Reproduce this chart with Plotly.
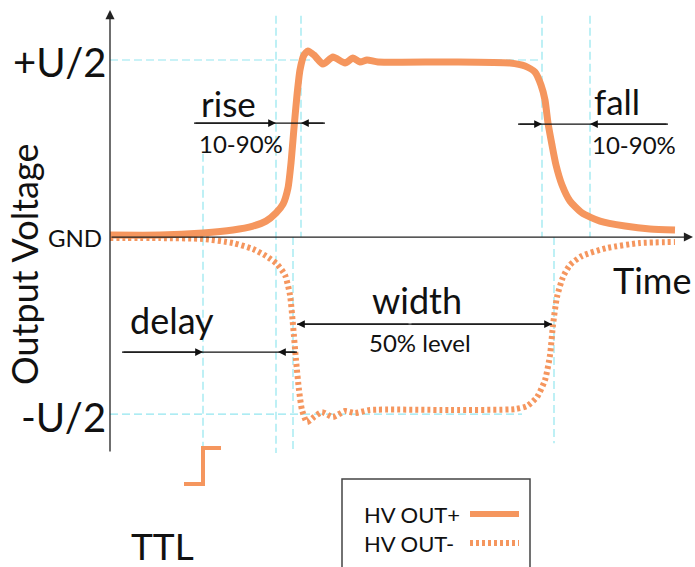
import plotly.graph_objects as go

# ---- data (time in arbitrary units, voltage in units of U/2) ----
t_pos = [0, 5.0, 9.3, 12.3, 14.3, 15.6, 16.6, 17.3, 17.8, 18.1, 18.4, 18.7, 19.0, 19.4, 19.8,
         20.4, 21.3, 22.3, 23.5, 24.3, 25.0, 25.7, 26.8, 34.0, 40.0, 41.5, 42.5, 43.1, 43.5,
         43.8, 44.2, 44.6, 45.2, 46.0, 47.2, 49.0, 51.5, 54.0, 56.5]
v_pos = [0.011, 0.011, 0.023, 0.040, 0.062, 0.090, 0.136, 0.186, 0.277, 0.418, 0.616, 0.802,
         0.944, 1.028, 1.051, 1.028, 0.977, 1.017, 0.983, 1.011, 0.989, 1.0, 0.989, 0.989,
         0.983, 0.966, 0.932, 0.859, 0.774, 0.644, 0.520, 0.407, 0.294, 0.203, 0.136, 0.090,
         0.062, 0.045, 0.040]

t_neg = [0, 5.0, 9.3, 12.3, 14.3, 15.6, 16.7, 17.5, 18.0, 18.3, 18.6, 18.9, 19.2, 19.7, 20.4,
         21.2, 22.3, 23.5, 24.5, 26.0, 34.0, 40.5, 41.7, 42.7, 43.5, 44.0, 44.3, 44.7, 45.3,
         46.0, 47.2, 49.7, 53.0, 56.5]
v_neg = [-0.006, -0.006, -0.011, -0.034, -0.068, -0.107, -0.153, -0.215, -0.328, -0.497,
         -0.695, -0.864, -0.977, -1.045, -1.017, -0.989, -1.017, -0.983, -0.994, -0.977,
         -0.977, -0.972, -0.955, -0.904, -0.808, -0.667, -0.497, -0.339, -0.226, -0.158,
         -0.107, -0.062, -0.034, -0.028]

t_ttl = [7.4, 9.3, 9.3, 11.1]
v_ttl = [-1.395, -1.395, -1.192, -1.192]

# marker times
t_trig, t_r10, t_r90, t_n50a = 9.3, 16.6, 19.1, 18.3
t_f90, t_f10, t_n50b = 43.2, 48.0, 44.4

ORANGE = "#F5965E"
CYAN = "#93E6EF"
INK = "#111111"
FONT = "Lato"

fig = go.Figure()
fig.add_trace(go.Scatter(x=t_pos, y=v_pos, mode="lines", name="HV OUT+",
                         line=dict(color=ORANGE, width=7, shape="spline", smoothing=0.6)))
fig.add_trace(go.Scatter(x=t_neg, y=v_neg, mode="lines", name="HV OUT-",
                         line=dict(color=ORANGE, width=6, dash="3px,3px", shape="spline", smoothing=0.6)))
fig.add_trace(go.Scatter(x=t_ttl, y=v_ttl, mode="lines", name="TTL",
                         line=dict(color=ORANGE, width=4)))

shapes = []
def vdash(t, v0, v1):
    shapes.append(dict(type="line", xref="x", yref="y", x0=t, x1=t, y0=v0, y1=v1,
                       line=dict(color=CYAN, width=1.2, dash="8px,4px"), layer="below"))
def hdash(v, t0, t1):
    shapes.append(dict(type="line", xref="x", yref="y", x0=t0, x1=t1, y0=v, y1=v,
                       line=dict(color=CYAN, width=1.2, dash="8px,4px"), layer="below"))
vdash(t_trig, 0.47, -1.19)
vdash(t_r10, 1.25, -1.22)
vdash(t_r90, 1.25, 0)
vdash(t_n50a, 0, -1.22)
vdash(t_f90, 1.25, 0)
vdash(t_f10, 1.25, 0)
vdash(t_n50b, 0, -1.165)
hdash(1.0, 0, t_f90)
hdash(-1.0, 0, 41.2)

def hline(v, t0, t1):
    shapes.append(dict(type="line", xref="x", yref="y", x0=t0, x1=t1, y0=v, y1=v,
                       line=dict(color=INK, width=1.2)))
# measurement lines
hline(0.644, 8.4, 21.5)
hline(0.638, 40.8, 55.8)
hline(-0.650, 1.2, 18.7)
hline(-0.492, 18.7, 44.2)

annotations = []
def arrow(tip_t, tail_t, v, width=1.2, size=1.3):
    annotations.append(dict(x=tip_t, y=v, ax=tail_t, ay=v, xref="x", yref="y",
                            axref="x", ayref="y", text="", showarrow=True,
                            arrowhead=2, arrowsize=size, arrowwidth=width,
                            arrowcolor=INK, standoff=0))
arrow(t_r10, 8.4, 0.644)
arrow(t_r90, 21.5, 0.644)
arrow(t_f90, 40.8, 0.638)
arrow(t_f10, 55.8, 0.638)
arrow(t_trig, 1.2, -0.650)
arrow(16.8, 18.7, -0.650)
arrow(18.7, 30.0, -0.492)
arrow(44.2, 30.0, -0.492)
# axes with arrows
annotations.append(dict(x=0, y=1.282, ax=0, ay=-1.22, xref="x", yref="y", axref="x", ayref="y",
                        text="", showarrow=True, arrowhead=2, arrowsize=1.4, arrowwidth=1.3,
                        arrowcolor="#222", standoff=0))
annotations.append(dict(x=58.3, y=0, ax=0, ay=0, xref="x", yref="y", axref="x", ayref="y",
                        text="", showarrow=True, arrowhead=2, arrowsize=1.4, arrowwidth=1.3,
                        arrowcolor="#222", standoff=0))

def label(t, v, s, size, xanchor="center", angle=0):
    annotations.append(dict(x=t, y=v, xref="x", yref="y", text=s, showarrow=False,
                            xanchor=xanchor, yanchor="middle", textangle=angle,
                            font=dict(family=FONT, size=size, color=INK)))
label(-0.2, 0.989, "+U/2", 40, "right")
label(-0.2, -1.017, "-U/2", 40, "right")
label(-0.6, 0.0, "GND", 24, "right")
label(11.8, 0.757, "rise", 35)
label(13.1, 0.531, "10-90%", 24)
label(50.7, 0.768, "fall", 35)
label(52.4, 0.520, "10-90%", 24)
label(6.2, -0.469, "delay", 36)
label(30.7, -0.356, "width", 36)
label(31.0, -0.593, "50% level", 24)
label(54.2, -0.243, "Time", 36)
label(5.2, -1.740, "TTL", 37)
label(-8.6, -0.158, "Output Voltage", 36, angle=-90)

# custom legend (text left, sample right)
W, H = 695, 567
px = lambda x: x / W
py = lambda y: 1 - y / H
shapes.append(dict(type="rect", xref="paper", yref="paper", x0=px(342), x1=px(530),
                   y0=py(600), y1=py(479), line=dict(color="#444", width=1.5)))
shapes.append(dict(type="line", xref="paper", yref="paper", x0=px(470), x1=px(519),
                   y0=py(514), y1=py(514), line=dict(color=ORANGE, width=6)))
shapes.append(dict(type="line", xref="paper", yref="paper", x0=px(470), x1=px(519),
                   y0=py(543), y1=py(543), line=dict(color=ORANGE, width=6, dash="3px,3px")))
for yy, s in [(514, "HV OUT+"), (543, "HV OUT-")]:
    annotations.append(dict(x=px(362), y=py(yy), xref="paper", yref="paper", text=s,
                            showarrow=False, xanchor="left", yanchor="middle",
                            font=dict(family=FONT, size=22, color=INK)))

fig.update_layout(
    width=W, height=H, margin=dict(l=0, r=0, t=0, b=0),
    paper_bgcolor="white", plot_bgcolor="white", showlegend=False,
    xaxis=dict(range=[-11, 58.5], visible=False, fixedrange=True),
    yaxis=dict(range=[-1.864, 1.339], visible=False, fixedrange=True),
    shapes=shapes, annotations=annotations,
)
fig.write_html("out.html", config={"displayModeBar": False},
               post_script="document.body.style.margin='0';document.body.style.overflow='hidden';")
